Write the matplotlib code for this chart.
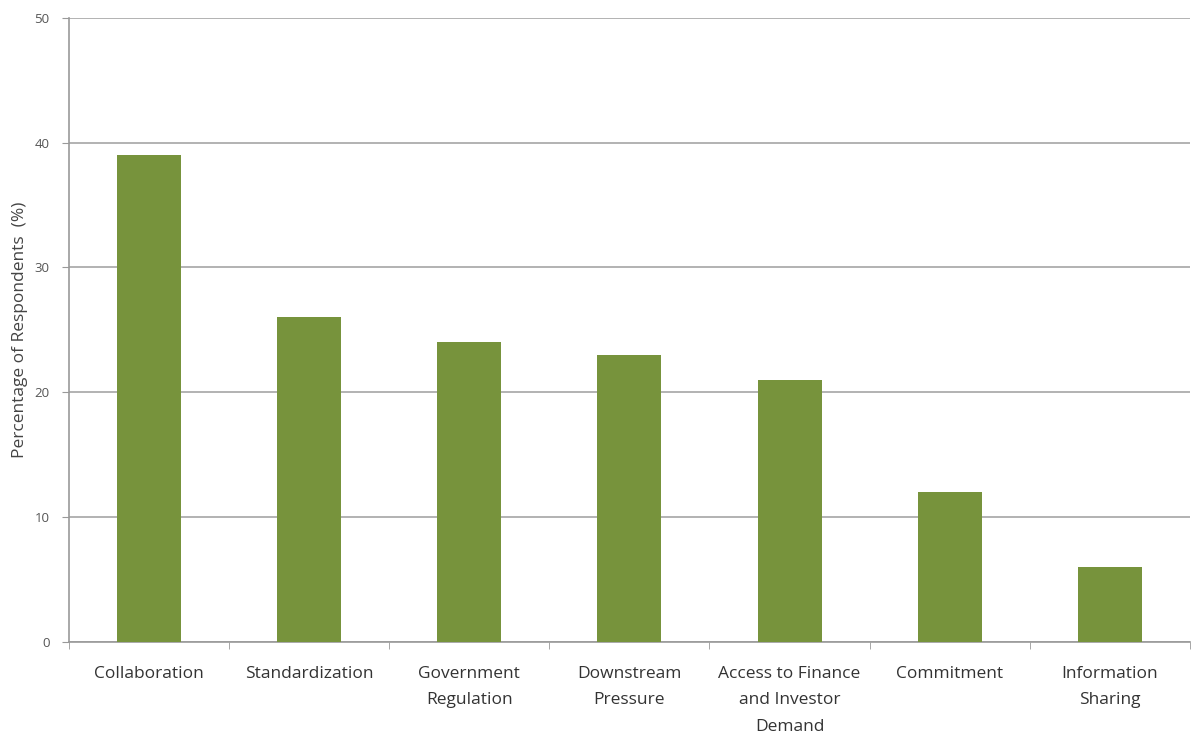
import matplotlib
matplotlib.use("Agg")
import matplotlib.pyplot as plt
import numpy as np

categories = ["Collaboration", "Standardization", "Government\nRegulation",
              "Downstream\nPressure", "Access to Finance\nand Investor\nDemand",
              "Commitment", "Information\nSharing"]
values = [39, 26, 24, 23, 21, 12, 6]
y_ticks = [0, 10, 20, 30, 40, 50]

plt.rcParams["font.family"] = ["Open Sans", "DejaVu Sans"]

fig = plt.figure(figsize=(11.91, 7.37), dpi=100)
ax = fig.add_axes([0.058, 0.129, 0.941, 0.847])

x = np.arange(len(categories))
ax.bar(x, values, width=0.4, color="#77933C", zorder=3)

ax.set_xlim(-0.5, len(categories) - 0.5)
ax.set_ylim(0, 50)
ax.set_yticks(y_ticks)
ax.set_yticklabels([str(t) for t in y_ticks], fontsize=9.5, color="#555555")
ax.set_xticks(x)
ax.set_xticklabels(categories, fontsize=12.5, color="#333333", linespacing=1.9)
ax.tick_params(axis="x", length=0, pad=17)
ax.set_xticks(np.arange(len(categories) + 1) - 0.5, minor=True)
ax.tick_params(axis="x", which="minor", length=5, color="#999999")
ax.tick_params(axis="y", length=5, color="#999999", pad=9)

ax.yaxis.grid(True, color="#A6A6A6", linewidth=1.2, zorder=0)
ax.set_axisbelow(True)
for side in ["top", "right"]:
    ax.spines[side].set_visible(False)
for side in ["left", "bottom"]:
    ax.spines[side].set_color("#999999")
    ax.spines[side].set_linewidth(1.2)

ax.set_ylabel("Percentage of Respondents  (%)", fontsize=12.5, color="#444444", labelpad=5)

fig.savefig("out.png", dpi=100)
